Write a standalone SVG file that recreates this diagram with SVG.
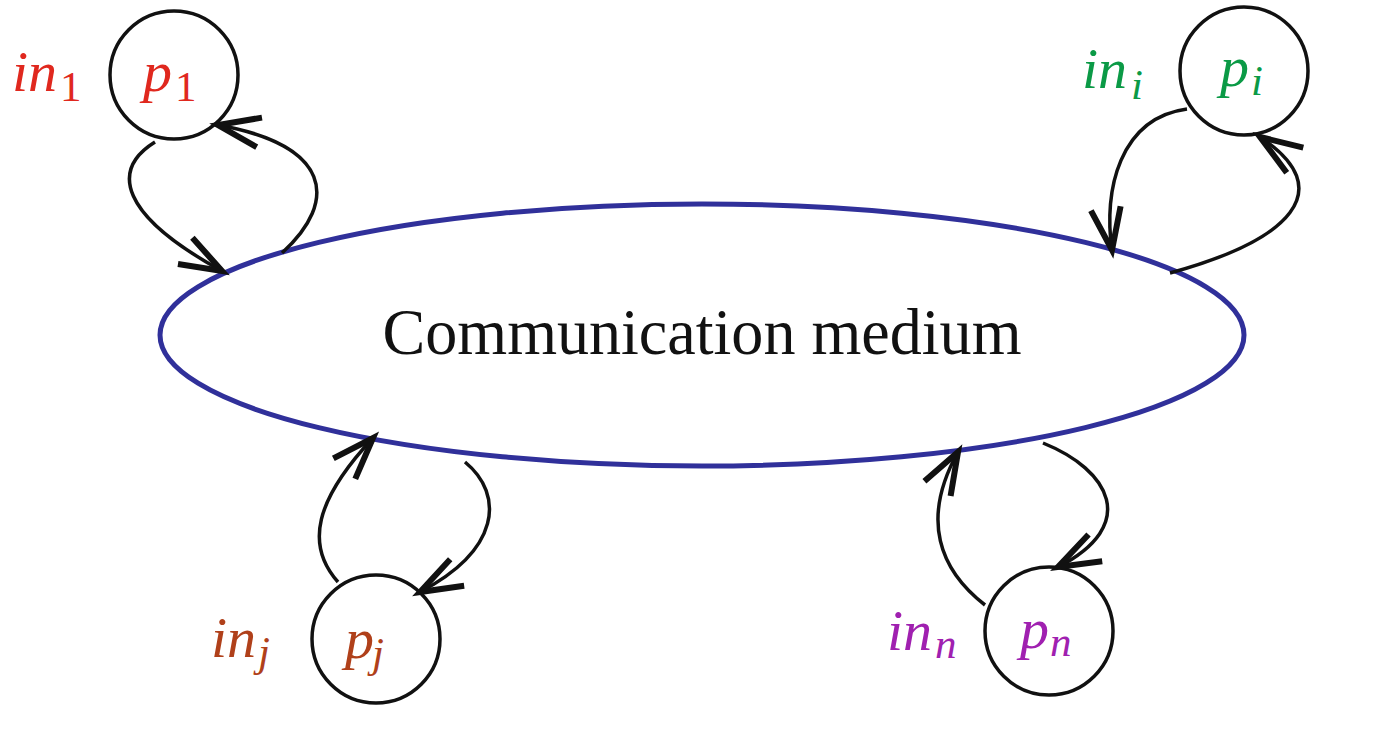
<svg xmlns="http://www.w3.org/2000/svg" width="1393" height="739" viewBox="0 0 1393 739">
<style>
.node{fill:none;stroke:#111;stroke-width:3.5}
.conn{fill:none;stroke:#111;stroke-width:3.5}
.m{font-family:"Liberation Serif",serif;font-style:italic;font-size:58px}
.s{font-family:"Liberation Serif",serif;font-size:43px}
.si{font-family:"Liberation Serif",serif;font-style:italic;font-size:43px}
.red{fill:#e0281e}.green{fill:#0b9a46}.brown{fill:#b0401a}.purple{fill:#a020b0}
</style>
<defs>
<marker id="ah" markerUnits="userSpaceOnUse" viewBox="-50 -25 60 50" refX="0" refY="0" markerWidth="60" markerHeight="50" orient="auto" overflow="visible">
<path d="M-42,-15 L0,0 L-42,15" fill="none" stroke="#111" stroke-width="6" stroke-linejoin="miter"/>
</marker>
</defs>
<rect width="1393" height="739" fill="#fff"/>
<g id="medium">
<ellipse cx="702" cy="335" rx="542" ry="131" fill="none" stroke="#30309a" stroke-width="5"/>
<text x="702" y="354" text-anchor="middle" font-family="Liberation Serif,serif" font-size="65" fill="#111" textLength="639" lengthAdjust="spacingAndGlyphs">Communication medium</text>
</g>
<g id="p1">
<circle class="node" cx="174" cy="75" r="64"/>
<text class="m red" x="143" y="91">p</text><text class="s red" x="175" y="101">1</text>
<text class="m red" x="12" y="91">in</text><text class="s red" x="60" y="101">1</text>
</g>
<g id="pi">
<circle class="node" cx="1244" cy="71" r="64"/>
<text class="m green" x="1220" y="86">p</text><text class="si green" x="1251" y="95">i</text>
<text class="m green" x="1082" y="88">in</text><text class="si green" x="1131" y="99">i</text>
</g>
<g id="pj">
<circle class="node" cx="376" cy="639" r="64"/>
<text class="m brown" x="345" y="658">p</text><text class="si brown" x="372" y="667">j</text>
<text class="m brown" x="211" y="657">in</text><text class="si brown" x="258" y="666">j</text>
</g>
<g id="pn">
<circle class="node" cx="1049" cy="631" r="64"/>
<text class="m purple" x="1020" y="648">p</text><text class="si purple" x="1050" y="656">n</text>
<text class="m purple" x="887" y="650">in</text><text class="si purple" x="935" y="658">n</text>
</g>
<g id="connectors">
<path class="conn" d="M155,142 C110,170 120,215 222,271" marker-end="url(#ah)"/>
<path class="conn" d="M282,253 C340,200 330,145 218,125" marker-end="url(#ah)"/>
<path class="conn" d="M1187,109 C1120,118 1103,190 1112,250" marker-end="url(#ah)"/>
<path class="conn" d="M1170,273 C1290,240 1340,190 1260,137" marker-end="url(#ah)"/>
<path class="conn" d="M338,582 C305,545 315,500 373,438" marker-end="url(#ah)"/>
<path class="conn" d="M465,462 C505,495 500,550 420,592" marker-end="url(#ah)"/>
<path class="conn" d="M985,605 C940,570 920,520 958,452" marker-end="url(#ah)"/>
<path class="conn" d="M1043,443 C1110,470 1140,525 1058,567" marker-end="url(#ah)"/>
</g>
</svg>
